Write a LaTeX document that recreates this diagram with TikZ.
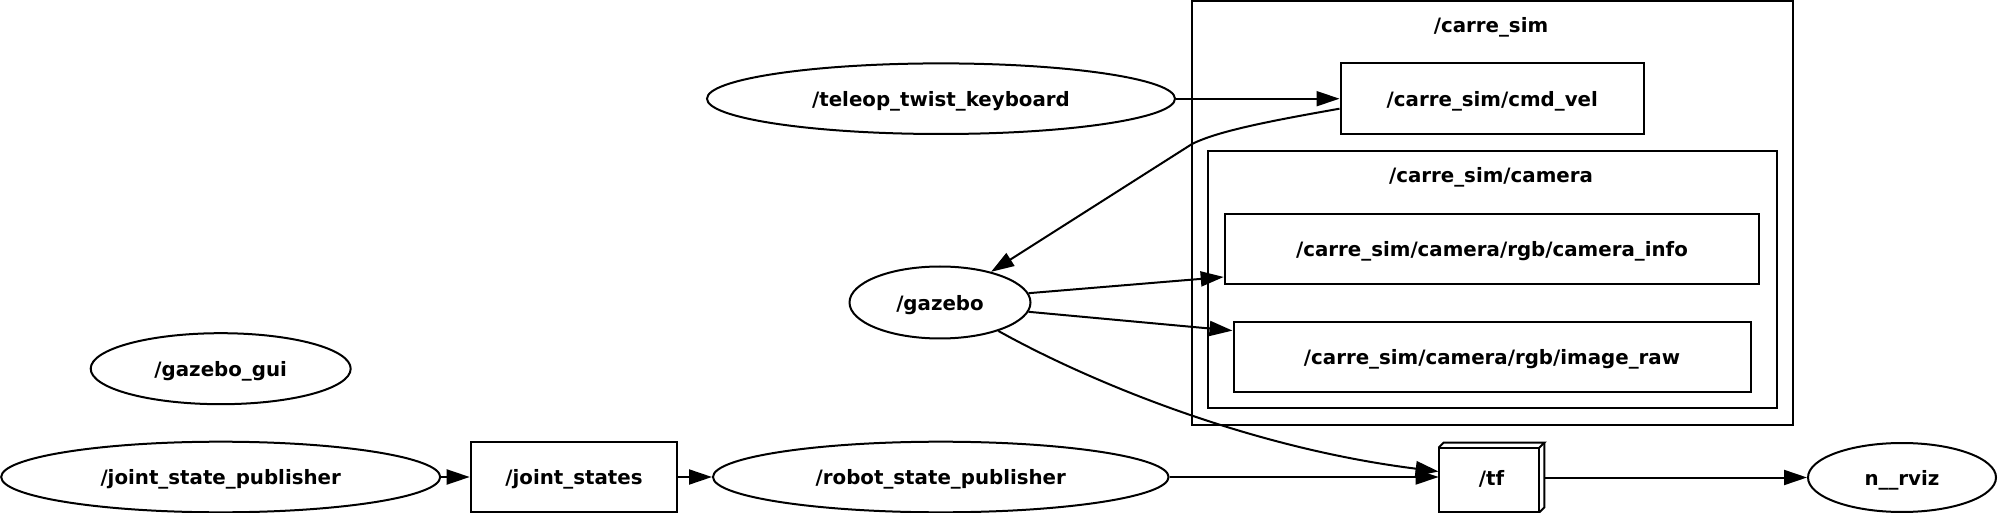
\documentclass[tikz,border=0pt]{standalone}
\usepackage{fontspec}
\setmainfont{DejaVu Sans}
\usetikzlibrary{shapes.geometric,arrows.meta,calc}
\tikzset{
  every node/.style={font=\fontsize{9.9}{12}\selectfont\bfseries, inner sep=0pt, text height=9.2pt, text depth=1.5pt},
  nodeell/.style={draw, ellipse, line width=1pt},
  topicbox/.style={draw, rectangle, line width=1pt},
  clusterbox/.style={draw, rectangle, line width=1pt},
  conn/.style={line width=1pt, -{Triangle[length=11.5pt,width=7.5pt]}},
}
\begin{document}
\begin{tikzpicture}[x=0.5pt,y=-0.5pt]
\useasboundingbox (0,0) rectangle (1998,513);
% clusters
\node[clusterbox, minimum width=300.25pt, minimum height=212pt] (csim) at (1492.25,213) {};
\node (csimlabel) at (1491,25) {/carre\_sim};
\node[clusterbox, minimum width=284.3pt, minimum height=128.8pt] (ccam) at (1492.3,279.5) {};
\node (ccamlabel) at (1491,175) {/carre\_sim/camera};
% nodes
\node[nodeell, minimum width=219.5pt, minimum height=35.3pt] (jsp) at (220.7,477) {/joint\_state\_publisher};
\node[topicbox, minimum width=103.3pt, minimum height=35.3pt] (js) at (574,477) {/joint\_states};
\node[nodeell, minimum width=227.8pt, minimum height=35.3pt] (rsp) at (940.8,477) {/robot\_state\_publisher};
\node[nodeell, minimum width=130pt, minimum height=35.5pt] (ggui) at (220.7,368.7) {/gazebo\_gui};
\node[nodeell, minimum width=90.5pt, minimum height=36pt] (gz) at (940,302.5) {/gazebo};
\node[nodeell, minimum width=234pt, minimum height=35.3pt] (tel) at (941,98.7) {/teleop\_twist\_keyboard};
\node[topicbox, minimum width=151.8pt, minimum height=35.3pt] (cv) at (1492.3,98.7) {/carre\_sim/cmd\_vel};
\node[topicbox, minimum width=267.3pt, minimum height=35.2pt] (ci) at (1492,248.8) {/carre\_sim/camera/rgb/camera\_info};
\node[topicbox, minimum width=258.5pt, minimum height=35.2pt] (ir) at (1492,356.8) {/carre\_sim/camera/rgb/image\_raw};
\node[rectangle, minimum width=52.5pt, minimum height=34.5pt] (tf) at (1491.5,477.5) {/tf};
\draw[line width=1pt] (tf.south west) rectangle ($(tf.north east)+(-5,5)$);
\draw[line width=1pt,line join=miter] ($(tf.north west)+(0,5)$) -- ($(tf.north west)+(5,0)$) -- (tf.north east) -- ($(tf.north east)+(-5,5)$);
\draw[line width=1pt,line join=miter] (tf.north east) -- ($(tf.south east)+(0,-5)$) -- ($(tf.south east)+(-5,0)$);
\node[nodeell, minimum width=94pt, minimum height=34.5pt] (rviz) at (1902,477.5) {n\_\_rviz};
% connectors
\draw[conn] (jsp.east) -- (js.west);
\draw[conn] (js.east) -- (rsp.west);
\draw[conn] (rsp.east) -- (rsp.east -| tf.west);
\draw[conn] (tf.east) -- (rviz.west);
\draw[conn] (tel.east) -- (cv.west);
\draw[conn] ($(cv.west)+(0,10)$) .. controls (1270,121) and (1218,131) .. (1192,144) -- (gz.31);
\draw[conn] (gz.6) -- ($(ci.south west)+(0,-8)$);
\draw[conn] (gz.-6) -- ($(ir.north west)+(0,10)$);
\draw[conn] (gz.-26) .. controls (1090,382) and (1250,448) .. ($(tf.west)+(0,-6)$);
\end{tikzpicture}
\end{document}
